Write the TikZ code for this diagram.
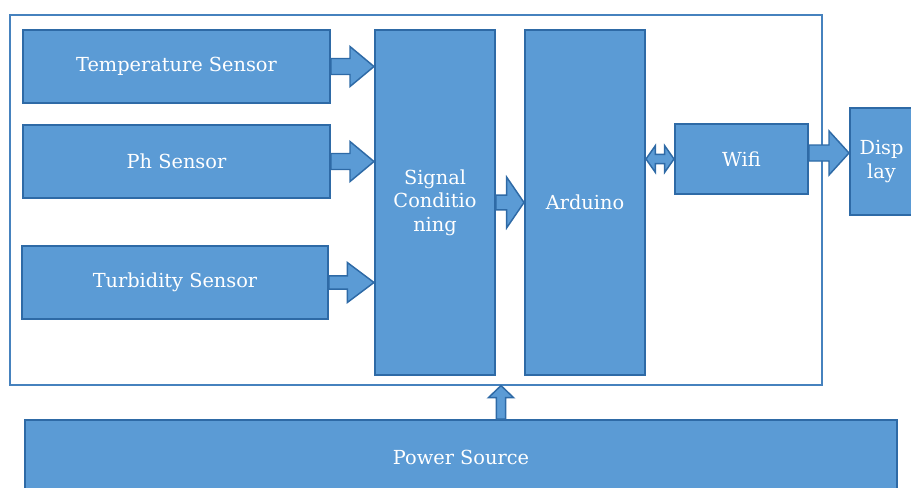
\documentclass[tikz,border=0pt]{standalone}
\usepackage{fontspec}
\setmainfont{DejaVu Serif}
\usetikzlibrary{calc}

\definecolor{boxfill}{RGB}{91,155,213}
\definecolor{boxline}{RGB}{46,106,166}
\definecolor{frameline}{RGB}{70,130,190}

\tikzset{every picture/.style={line width=0.75pt}}
\tikzset{
  block/.style={draw=boxline, fill=boxfill, line width=1.5pt, text=white, inner sep=0pt, align=center, font=\fontsize{14.5}{17.5}\selectfont},
  blockarrow/.style={draw=boxline, fill=boxfill, line width=1.1pt, line join=miter},
}

% right block arrow: from, to, shaft half, head half, head length
\newcommand{\rightblock}[5]{%
  \draw[blockarrow] let \p1=(#1), \p2=(#2) in
    (\x1,\y1+#3) -- (\x2-#5,\y1+#3) -- (\x2-#5,\y1+#4) -- (\x2,\y1) -- (\x2-#5,\y1-#4) -- (\x2-#5,\y1-#3) -- (\x1,\y1-#3) -- cycle ;}
% double block arrow
\newcommand{\bothblock}[5]{%
  \draw[blockarrow] let \p1=(#1), \p2=(#2) in
    (\x1,\y1) -- (\x1+#5,\y1+#4) -- (\x1+#5,\y1+#3) -- (\x2-#5,\y1+#3) -- (\x2-#5,\y1+#4) -- (\x2,\y1) -- (\x2-#5,\y1-#4) -- (\x2-#5,\y1-#3) -- (\x1+#5,\y1-#3) -- (\x1+#5,\y1-#4) -- cycle ;}
% up block arrow
\newcommand{\upblock}[5]{%
  \draw[blockarrow] let \p1=(#1), \p2=(#2) in
    (\x1-#3,\y1) -- (\x1-#3,\y2+#5) -- (\x1-#4,\y2+#5) -- (\x1,\y2) -- (\x1+#4,\y2+#5) -- (\x1+#3,\y2+#5) -- (\x1+#3,\y1) -- cycle ;}

\begin{document}
\begin{tikzpicture}[x=0.75pt,y=0.75pt,yscale=-1,xscale=1]
	\useasboundingbox (0,0) rectangle (911,487);
	\clip (0,0) rectangle (911,487);

	%Shape: Frame
	\node [draw=frameline, line width=0.9pt, minimum width=609pt, minimum height=277.5pt] (frame) at (416,200) {};

	%Shape: Sensors
	\node [block, minimum width=230.25pt, minimum height=54.75pt] (temp) at (176.5,66.5) {Temperature Sensor};
	\node [block, minimum width=230.25pt, minimum height=54.75pt] (ph) at (176.5,161.5) {Ph Sensor};
	\node [block, minimum width=229.5pt, minimum height=54.75pt] (turb) at (175,282.5) {Turbidity Sensor};

	%Shape: Processing
	\node [block, minimum width=90pt, minimum height=258.75pt] (sig) at (435,202.5) {Signal\\Conditio\\ning};
	\node [block, minimum width=90pt, minimum height=258.75pt] (ard) at (585,202.5) {Arduino};
	\node [block, minimum width=99.75pt, minimum height=52.5pt] (wifi) at (741.5,159) {Wifi};
	\node [block, minimum width=47.25pt, minimum height=80.25pt] (disp) at (881.5,161.5) {Disp\\lay};

	%Shape: Power
	\node [block, minimum width=654pt, minimum height=56.25pt] (power) at (461,457.5) {Power Source};

	%Shape: Block Arrows
	\rightblock{temp.east}{sig.west |- temp.east}{6pt}{15pt}{18pt}
	\rightblock{ph.east}{sig.west |- ph.east}{6pt}{15pt}{18pt}
	\rightblock{turb.east}{sig.west |- turb.east}{5pt}{15pt}{20pt}
	\rightblock{sig.east}{ard.west}{5.6pt}{19pt}{13pt}
	\bothblock{ard.east |- wifi.west}{wifi.west}{3.4pt}{10pt}{7pt}
	\rightblock{$(wifi.east)+(0,-6)$}{$(disp.west |- wifi.east)+(0,-6)$}{6pt}{16.5pt}{15pt}
	\upblock{$(power.north -| sig.south east)+(5,0)$}{$(frame.south -| sig.south east)+(5,0)$}{3.4pt}{9.4pt}{9pt}

\end{tikzpicture}
\end{document}
